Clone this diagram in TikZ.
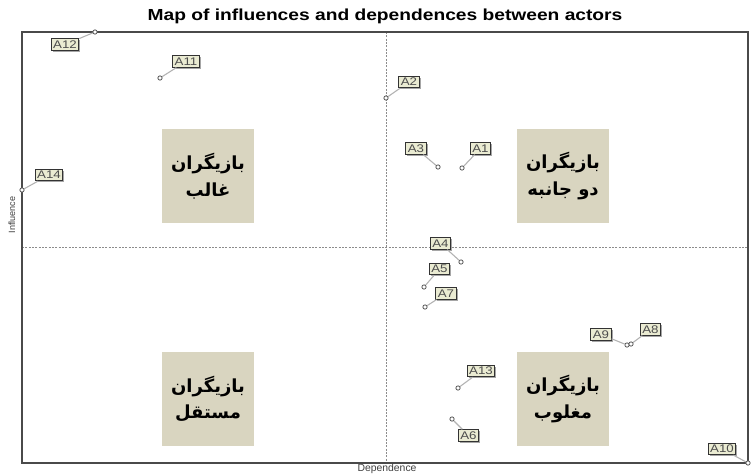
\documentclass[tikz,border=0pt]{standalone}
\usepackage{fontspec}
\setmainfont{Liberation Sans}
\newfontfamily\arabicfont[Script=Arabic]{DejaVu Sans}
\TeXXeTstate=1
\usetikzlibrary{shadows}
\definecolor{quadfill}{HTML}{D9D5C0}
\definecolor{labelfill}{HTML}{EAEBD2}
\definecolor{framecol}{HTML}{4A4A4A}
\newcommand{\lbl}[1]{\scalebox{1.2}[1]{#1}}
\begin{document}
\begin{tikzpicture}[x=0.75pt,y=-0.75pt,
  frame/.style={draw=framecol, line width=0.9pt},
  midline/.style={draw=black!45, line width=0.4pt, dash pattern=on 1.5pt off 1pt},
  quadbox/.style={fill=quadfill, minimum width=69pt, minimum height=70.5pt, inner sep=0pt, align=center,
    font=\arabicfont\bfseries\fontsize{13.5}{20}\selectfont},
  actorlabel/.style={draw=black!80, fill=labelfill, line width=0.7pt, inner xsep=1.5pt, inner ysep=0.3pt,
    minimum height=8.5pt, text=black!70, font=\fontsize{8.3}{8.5}\selectfont,
    drop shadow={shadow xshift=1.2pt, shadow yshift=-1.2pt, fill=black!35, opacity=1}},
  actorpt/.style={circle, draw=black!65, fill=white, line width=0.6pt, inner sep=0pt, minimum size=3.2pt},
  leader/.style={draw=black!30, line width=0.8pt},
  axislabel/.style={text=black!75, font=\fontsize{6.8}{7}\selectfont}
]
\useasboundingbox (0,0) rectangle (756,475);
\fill[white] (0,0) rectangle (756,475);

% title
\node[font=\bfseries\fontsize{12}{13}\selectfont] (title) at (385,16) {\scalebox{1.2}[1]{Map of influences and dependences between actors}};

% frame and mid lines
\coordinate (tl) at (22,32);
\coordinate (br) at (748,463);
\coordinate (vt) at (386,32);
\coordinate (vb) at (386,463);
\coordinate (hl) at (22,247);
\coordinate (hr) at (748,247);
\draw[midline] (vt) -- (vb);
\draw[midline] (hl) -- (hr);
\draw[frame] (tl) rectangle (br);

% axis labels
\node[axislabel, rotate=90] (infl) at (12,215) {Influence};
\node[axislabel, font=\fontsize{7.8}{8}\selectfont] (dep) at (387,469) {Dependence};

% quadrant boxes
\node[quadbox] (q1) at (208,176) {\beginR بازیگران\endR\\\beginR غالب\endR};
\node[quadbox] (q2) at (563,176) {\beginR بازیگران\endR\\\beginR دو جانبه\endR};
\node[quadbox] (q3) at (208,399) {\beginR بازیگران\endR\\\beginR مستقل\endR};
\node[quadbox] (q4) at (563,399) {\beginR بازیگران\endR\\\beginR مغلوب\endR};

% actor points
\node[actorpt] (p12) at (95,32) {};
\node[actorpt] (p11) at (160,78) {};
\node[actorpt] (p14) at (22,190) {};
\node[actorpt] (p2) at (386,98) {};
\node[actorpt] (p3) at (438,167) {};
\node[actorpt] (p1) at (462,168) {};
\node[actorpt] (p4) at (461,262) {};
\node[actorpt] (p5) at (424,287) {};
\node[actorpt] (p7) at (425,307) {};
\node[actorpt] (p9) at (627,345) {};
\node[actorpt] (p8) at (631,344) {};
\node[actorpt] (p13) at (458,388) {};
\node[actorpt] (p6) at (452,419) {};
\node[actorpt] (p10) at (748,463) {};

% actor labels
\node[actorlabel] (a12) at (65,44.5) {\lbl{A12}};
\node[actorlabel] (a11) at (186,61.5) {\lbl{A11}};
\node[actorlabel] (a14) at (49,175) {\lbl{A14}};
\node[actorlabel] (a2) at (409,82) {\lbl{A2}};
\node[actorlabel] (a3) at (416,148.5) {\lbl{A3}};
\node[actorlabel] (a1) at (480.5,148.5) {\lbl{A1}};
\node[actorlabel] (a4) at (440.5,243.5) {\lbl{A4}};
\node[actorlabel] (a5) at (439.5,269) {\lbl{A5}};
\node[actorlabel] (a7) at (446,293.5) {\lbl{A7}};
\node[actorlabel] (a9) at (601,334.5) {\lbl{A9}};
\node[actorlabel] (a8) at (650.5,329.5) {\lbl{A8}};
\node[actorlabel] (a13) at (481,371) {\lbl{A13}};
\node[actorlabel] (a6) at (468.5,435.5) {\lbl{A6}};
\node[actorlabel] (a10) at (722,449) {\lbl{A10}};

% leaders
\draw[leader] (a12) -- (p12);
\draw[leader] (a11) -- (p11);
\draw[leader] (a14) -- (p14);
\draw[leader] (a2) -- (p2);
\draw[leader] (a3) -- (p3);
\draw[leader] (a1) -- (p1);
\draw[leader] (a4) -- (p4);
\draw[leader] (a5) -- (p5);
\draw[leader] (a7) -- (p7);
\draw[leader] (a9) -- (p9);
\draw[leader] (a8) -- (p8);
\draw[leader] (a13) -- (p13);
\draw[leader] (a6) -- (p6);
\draw[leader] (a10) -- (p10);
\end{tikzpicture}
\end{document}
